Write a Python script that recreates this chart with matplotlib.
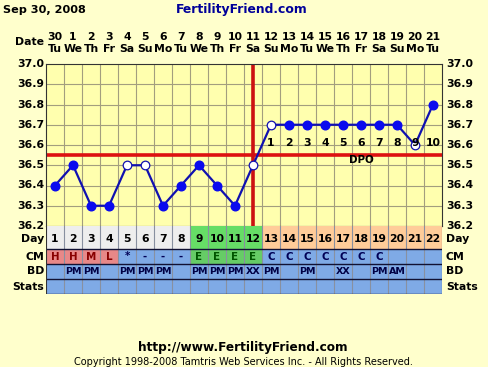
import matplotlib
matplotlib.use("Agg")
import matplotlib.pyplot as plt
import matplotlib.transforms as mtransforms
import numpy as np

W, H = 488, 367

days = list(range(1, 23))
dates = ["30", "1", "2", "3", "4", "5", "6", "7", "8", "9", "10", "11",
         "12", "13", "14", "15", "16", "17", "18", "19", "20", "21"]
weekdays = ["Tu", "We", "Th", "Fr", "Sa", "Su", "Mo", "Tu", "We", "Th", "Fr",
            "Sa", "Su", "Mo", "Tu", "We", "Th", "Fr", "Sa", "Su", "Mo", "Tu"]
temps = [36.4, 36.5, 36.3, 36.3, 36.5, 36.5, 36.3, 36.4, 36.5, 36.4, 36.3,
         36.5, 36.7, 36.7, 36.7, 36.7, 36.7, 36.7, 36.7, 36.7, 36.6, 36.8]
open_pts = [False, False, False, False, True, True, False, False, False, False, False,
            True, True, False, False, False, False, False, False, False, True, False]
coverline = 36.55
ovulation_day = 12
dpo_labels = ["1", "2", "3", "4", "5", "6", "7", "8", "9", "10"]
cm = ["H", "H", "M", "L", "*", "-", "-", "-", "E", "E", "E", "E",
      "C", "C", "C", "C", "C", "C", "C", "", "", ""]
bd = ["", "PM", "PM", "", "PM", "PM", "PM", "", "PM", "PM", "PM", "XX",
      "PM", "", "PM", "", "XX", "", "PM", "AM", "", ""]
yticks = [36.2, 36.3, 36.4, 36.5, 36.6, 36.7, 36.8, 36.9, 37.0]
row_names = ["Day", "CM", "BD", "Stats"]

BG = "#FFFFCC"
PLOT_BG = "#FFFFAE"
GRID = "#A39E7E"
BLUE_CELL = "#7FAAE6"
FONT = "DejaVu Sans"
FS = 7.8

fig = plt.figure(figsize=(W / 100, H / 100), dpi=100, facecolor=BG)

def px_axes(x0, y0, x1, y1):
    return fig.add_axes([x0 / W, 1 - y1 / H, (x1 - x0) / W, (y1 - y0) / H])

L, R, T, B = 46, 442, 64, 226
ax = px_axes(L, T, R, B)
ax.set_facecolor(PLOT_BG)
ax.set_xlim(0.5, 22.5)
ax.set_ylim(36.2, 37.0)
for xv in np.arange(1.5, 22.5, 1):
    ax.axvline(xv, color=GRID, lw=0.8, zorder=1)
for yv in yticks[1:-1]:
    ax.axhline(yv, color=GRID, lw=0.8, zorder=1)
ax.set_xticks([])
ax.set_yticks([])
for s in ax.spines.values():
    s.set_color("#333333")
    s.set_linewidth(0.8)

ax.axhline(coverline, color="#DD1111", lw=2.6, zorder=2)
ax.axvline(ovulation_day, color="#CC1111", lw=2.6, zorder=2)
ax.plot(days, temps, color="#1010B0", lw=1.6, zorder=3)
d = np.array(days); t = np.array(temps); o = np.array(open_pts)
ax.plot(d[~o], t[~o], "o", ms=6.2, color="#0A0AEE", mec="#0A0AEE", zorder=4)
ax.plot(d[o], t[o], "o", ms=6.2, mfc="white", mec="#1010B0", mew=0.9, zorder=4)
for i, lab in enumerate(dpo_labels):
    ax.text(13 + i, 36.612, lab, ha="center", va="center", fontsize=FS,
            fontweight="bold", family=FONT, color="black", zorder=5)
ax.text(18, 36.525, "DPO", ha="center", va="center", fontsize=FS - 0.4,
        fontweight="bold", family=FONT, color="black", zorder=5)

left_tr = mtransforms.blended_transform_factory(fig.transFigure, ax.transData)
for yv in yticks:
    fig.text(44 / W, yv, f"{yv:.1f}", transform=left_tr,
             ha="right", va="center", fontsize=FS, fontweight="bold", family=FONT)
    fig.text(446 / W, yv, f"{yv:.1f}", transform=left_tr,
             ha="left", va="center", fontsize=FS, fontweight="bold", family=FONT)

# top date labels
top_tr = mtransforms.blended_transform_factory(ax.transData, fig.transFigure)
for i in range(22):
    fig.text(days[i], 1 - 37 / H, dates[i], transform=top_tr, ha="center", va="center",
             fontsize=FS, fontweight="bold", family=FONT)
    fig.text(days[i], 1 - 49 / H, weekdays[i], transform=top_tr, ha="center", va="center",
             fontsize=FS, fontweight="bold", family=FONT)
fig.text(44 / W, 1 - 42 / H, "Date", ha="right", va="center", fontsize=FS,
         fontweight="bold", family=FONT)

# table
TB = 294
tax = px_axes(L, B, R, TB)
tax.set_xlim(0.5, 22.5)
bounds = [0, 23, 38, 53, 68]
tax.set_ylim(68, 0)
tax.set_xticks([]); tax.set_yticks([])
for s in tax.spines.values():
    s.set_visible(False)

def day_color(dd):
    if dd <= 8:
        return "#EEEEEE"
    if dd <= 12:
        return "#66DD66"
    return "#FFCC99"

def cm_color(dd):
    if dd <= 4:
        return "#E88888"
    if 9 <= dd <= 12:
        return "#66CC66"
    return BLUE_CELL

for i, dd in enumerate(days):
    tax.bar(dd, bounds[1] - bounds[0], bottom=bounds[0], width=1, color=day_color(dd), zorder=1)
    tax.bar(dd, bounds[2] - bounds[1], bottom=bounds[1], width=1, color=cm_color(dd), zorder=1)
    tax.bar(dd, bounds[3] - bounds[2], bottom=bounds[2], width=1, color=BLUE_CELL, zorder=1)
    tax.bar(dd, bounds[4] - bounds[3], bottom=bounds[3], width=1, color=BLUE_CELL, zorder=1)
    tax.text(dd, (bounds[0] + bounds[1]) / 2 + 1, str(dd), ha="center", va="center",
             fontsize=FS, fontweight="bold", family=FONT, color="black", zorder=3)
    cmc = "#880000" if dd <= 4 else ("#005500" if 9 <= dd <= 12 else "#000055")
    tax.text(dd, (bounds[1] + bounds[2]) / 2, cm[i], ha="center", va="center",
             fontsize=FS - 0.4, fontweight="bold", family=FONT, color=cmc, zorder=3)
    tax.text(dd, (bounds[2] + bounds[3]) / 2, bd[i], ha="center", va="center",
             fontsize=FS - 1.0, fontweight="bold", family=FONT, color="#000044", zorder=3)
for xv in np.arange(1.5, 22.5, 1):
    tax.axvline(xv, color="#8890A0", lw=0.8, zorder=2)
for yb in bounds[1:]:
    tax.axhline(yb, color="#111133", lw=1.0, zorder=2)
tax.axvline(0.5, color="#333333", lw=0.8, zorder=2)
tax.axvline(22.5, color="#333333", lw=0.8, zorder=2)
row_tr = mtransforms.blended_transform_factory(fig.transFigure, tax.transData)
for j, name in enumerate(row_names):
    yc = (bounds[j] + bounds[j + 1]) / 2 + (1 if j == 0 else 0)
    fig.text(44 / W, yc, name, transform=row_tr, ha="right",
             va="center", fontsize=FS, fontweight="bold", family=FONT)
    fig.text(446 / W, yc, name, transform=row_tr, ha="left",
             va="center", fontsize=FS, fontweight="bold", family=FONT)

# header and footer
fig.text(3 / W, 1 - 10 / H, "Sep 30, 2008", ha="left", va="center", fontsize=FS + 0.3,
         fontweight="bold", family=FONT)
fig.text(242 / W, 1 - 10 / H, "FertilityFriend.com", ha="center", va="center",
         fontsize=8.9, fontweight="bold", family=FONT, color="#000099")
fig.text(243 / W, 1 - 348 / H, "http://www.FertilityFriend.com", ha="center",
         va="center", fontsize=8.7, fontweight="bold", family=FONT)
fig.text(243 / W, 1 - 362 / H,
         "Copyright 1998-2008 Tamtris Web Services Inc. - All Rights Reserved.",
         ha="center", va="center", fontsize=7.0, family=FONT)

fig.savefig("out.png", dpi=100, facecolor=BG)
